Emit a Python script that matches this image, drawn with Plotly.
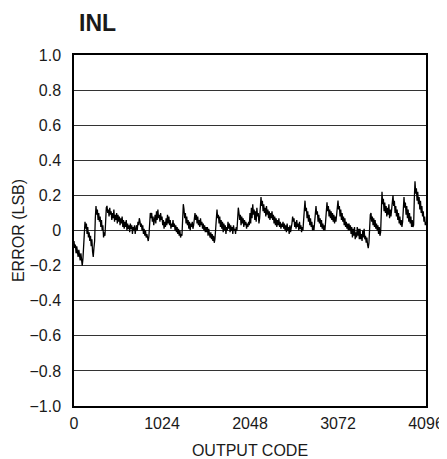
import plotly.graph_objects as go

step = 8
inl_values = [
    -0.06, -0.10, -0.08, -0.13, -0.09, -0.12, -0.15, -0.11, -0.14, -0.17, -0.13, -0.18, -0.20, -0.16, -0.06, 0.03,
    0.05, 0.01, 0.04, -0.02, 0.02, -0.04, -0.01, -0.06, -0.03, -0.09, -0.05, -0.12, -0.15, -0.10, -0.06, 0.07,
    0.14, 0.09, 0.12, 0.06, 0.10, 0.05, 0.08, 0.02, 0.06, 0.00, 0.03, -0.04, -0.01, -0.03, 0.06, 0.13,
    0.14, 0.10, 0.12, 0.08, 0.13, 0.09, 0.11, 0.06, 0.10, 0.07, 0.12, 0.05, 0.09, 0.06, 0.10, 0.04,
    0.09, 0.05, 0.08, 0.03, 0.07, 0.04, 0.08, 0.02, 0.06, 0.01, 0.05, 0.02, 0.06, 0.00, 0.04, 0.01,
    0.03, -0.01, 0.04, 0.01, 0.03, -0.02, 0.02, 0.00, 0.03, -0.02, 0.01, 0.03, 0.00, 0.05, 0.03, 0.07,
    0.05, 0.02, 0.04, 0.00, 0.03, -0.02, 0.01, -0.03, 0.00, -0.04, -0.02, -0.05, -0.06, -0.03, 0.04, 0.10,
    0.07, 0.10, 0.05, 0.08, 0.03, 0.07, 0.09, 0.04, 0.11, 0.06, 0.12, 0.07, 0.09, 0.05, 0.10, 0.06,
    0.08, 0.03, 0.06, 0.01, 0.05, 0.02, 0.07, 0.03, 0.09, 0.04, 0.08, 0.03, 0.06, 0.01, 0.04, 0.02,
    0.06, 0.02, 0.04, 0.00, 0.03, -0.01, 0.02, -0.02, 0.01, -0.03, 0.00, -0.04, -0.02, -0.03, 0.08, 0.15,
    0.12, 0.07, 0.10, 0.04, 0.08, 0.03, 0.06, 0.01, 0.05, 0.00, 0.04, 0.02, 0.05, 0.01, 0.03, 0.07,
    0.10, 0.06, 0.09, 0.04, 0.08, 0.03, 0.06, 0.02, 0.07, 0.03, 0.05, 0.01, 0.04, 0.00, 0.03, -0.01,
    0.02, -0.01, 0.02, -0.03, 0.01, -0.02, -0.04, -0.01, -0.05, -0.02, -0.06, -0.03, -0.07, -0.05, 0.02, 0.10,
    0.12, 0.07, 0.09, 0.04, 0.08, 0.02, 0.06, 0.01, 0.05, -0.01, 0.04, 0.00, 0.03, -0.02, 0.02, 0.00,
    0.05, 0.01, 0.04, -0.01, 0.03, 0.00, 0.02, -0.02, 0.03, 0.00, 0.01, -0.02, 0.02, 0.00, 0.06, 0.13,
    0.10, 0.06, 0.09, 0.03, 0.08, 0.04, 0.07, 0.02, 0.06, 0.03, 0.05, 0.01, 0.04, 0.02, 0.05, 0.03,
    0.10, 0.04, 0.13, 0.07, 0.15, 0.09, 0.12, 0.06, 0.11, 0.05, 0.13, 0.08, 0.10, 0.04, 0.07, 0.12,
    0.19, 0.14, 0.17, 0.11, 0.15, 0.10, 0.13, 0.08, 0.14, 0.09, 0.12, 0.07, 0.11, 0.06, 0.10, 0.07,
    0.11, 0.06, 0.09, 0.04, 0.08, 0.03, 0.07, 0.02, 0.06, 0.03, 0.07, 0.02, 0.05, 0.01, 0.04, 0.02,
    0.05, 0.01, 0.04, 0.00, 0.03, -0.01, 0.04, 0.00, 0.02, -0.02, 0.03, -0.01, 0.01, 0.04, 0.08, 0.05,
    0.07, 0.02, 0.05, 0.01, 0.06, 0.02, 0.04, 0.00, 0.05, 0.01, 0.03, -0.01, 0.02, 0.00, 0.06, 0.14,
    0.17, 0.11, 0.13, 0.07, 0.11, 0.05, 0.09, 0.03, 0.07, 0.02, 0.05, 0.00, 0.03, 0.00, 0.06, 0.12,
    0.14, 0.09, 0.11, 0.05, 0.09, 0.04, 0.07, 0.02, 0.06, 0.01, 0.04, 0.00, 0.03, 0.00, 0.07, 0.14,
    0.16, 0.11, 0.14, 0.08, 0.12, 0.07, 0.11, 0.06, 0.10, 0.05, 0.09, 0.04, 0.08, 0.05, 0.10, 0.14,
    0.17, 0.12, 0.14, 0.08, 0.12, 0.06, 0.10, 0.05, 0.08, 0.03, 0.07, 0.02, 0.05, 0.01, 0.04, 0.00,
    0.04, 0.00, 0.03, -0.02, 0.02, -0.04, 0.01, -0.03, 0.02, -0.05, -0.01, -0.04, 0.02, -0.03, 0.01, -0.05,
    0.01, -0.05, -0.02, -0.06, 0.00, -0.04, 0.01, -0.05, -0.03, -0.07, -0.04, -0.08, -0.10, -0.07, 0.02, 0.09,
    0.10, 0.05, 0.08, 0.03, 0.07, 0.02, 0.06, 0.01, 0.04, 0.00, 0.03, -0.02, 0.02, -0.03, -0.01, 0.21,
    0.22, 0.15, 0.18, 0.11, 0.16, 0.10, 0.14, 0.08, 0.13, 0.09, 0.15, 0.07, 0.12, 0.08, 0.14, 0.19,
    0.20, 0.14, 0.17, 0.10, 0.14, 0.08, 0.12, 0.06, 0.10, 0.04, 0.08, 0.03, 0.06, 0.02, 0.05, 0.12,
    0.19, 0.13, 0.16, 0.09, 0.14, 0.07, 0.12, 0.05, 0.10, 0.04, 0.08, 0.02, 0.06, 0.02, 0.03, 0.18,
    0.28, 0.21, 0.24, 0.17, 0.22, 0.15, 0.19, 0.12, 0.17, 0.10, 0.14, 0.08, 0.11, 0.05, 0.08, 0.03,
    0.05,
]
codes = [i * step for i in range(len(inl_values))]

x_tick_vals = [0, 1024, 2048, 3072, 4096]
x_tick_text = ["0", "1024", "2048", "3072", "4096"]
y_tick_vals = [1.0, 0.8, 0.6, 0.4, 0.2, 0, -0.2, -0.4, -0.6, -0.8, -1.0]
y_tick_text = ["1.0", "0.8", "0.6", "0.4", "0.2", "0",
               "\u22120.2", "\u22120.4", "\u22120.6", "\u22120.8", "\u22121.0"]

font_main = "Liberation Sans, Arial, sans-serif"

fig = go.Figure()
fig.add_trace(go.Scatter(
    x=codes, y=inl_values, mode="lines",
    line=dict(color="black", width=1.3),
    showlegend=False, hoverinfo="skip",
))

fig.update_layout(
    width=439, height=451,
    margin=dict(l=66, r=21, t=47, b=53),
    paper_bgcolor="white", plot_bgcolor="white",
    font=dict(family=font_main, size=16, color="#1a1a1a"),
    xaxis=dict(
        range=[0, 4096], tickvals=x_tick_vals, ticktext=x_tick_text,
        showgrid=False, zeroline=False, automargin=False,
        showline=True, mirror=True, linecolor="black", linewidth=1.5,
        ticks="", ticklen=0, ticklabelstandoff=2,
        title=dict(text="OUTPUT CODE", standoff=16, font=dict(size=16)),
        tickfont=dict(size=16),
    ),
    yaxis=dict(
        range=[-1, 1], tickvals=y_tick_vals, ticktext=y_tick_text,
        showgrid=True, gridcolor="#333333", gridwidth=1,
        zeroline=False, automargin=False,
        showline=True, mirror=True, linecolor="black", linewidth=1.5,
        ticks="", ticklen=0, ticklabelstandoff=8,
        title=dict(text="ERROR (LSB)", standoff=1, font=dict(size=16)),
        tickfont=dict(size=16),
    ),
    annotations=[dict(
        text="<b>INL</b>", xref="paper", yref="paper",
        x=3 / 352, y=1 + 32 / 351, xanchor="left", yanchor="middle",
        showarrow=False,
        font=dict(family="Liberation Sans Narrow, Liberation Sans, Arial, sans-serif",
                  size=23, color="#1a1a1a"),
    )],
)

fig.write_html("out.html")
